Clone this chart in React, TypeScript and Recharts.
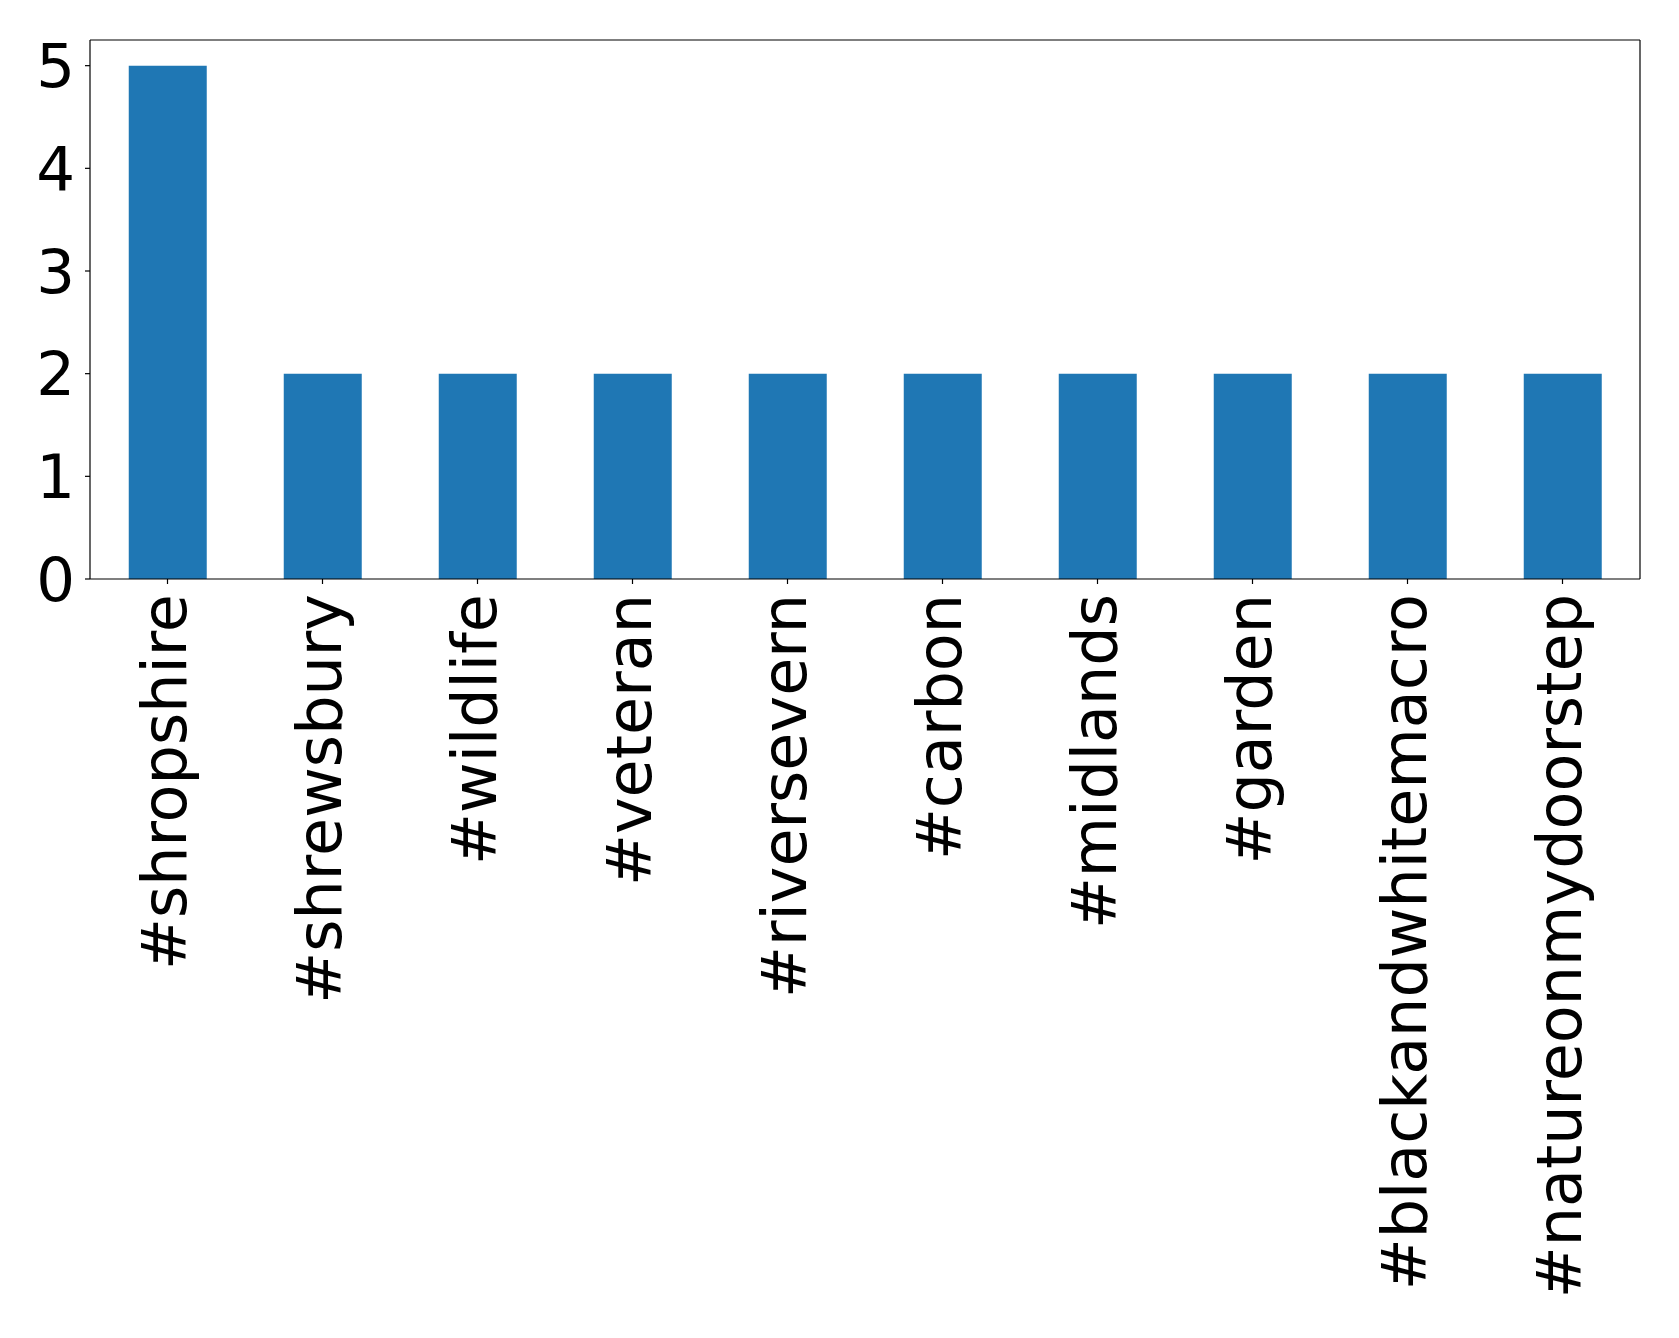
import { BarChart, Bar, XAxis, YAxis } from 'recharts';

const hashtags = [
  '#shropshire',
  '#shrewsbury',
  '#wildlife',
  '#veteran',
  '#riversevern',
  '#carbon',
  '#midlands',
  '#garden',
  '#blackandwhitemacro',
  '#natureonmydoorstep',
];
const counts = [5, 2, 2, 2, 2, 2, 2, 2, 2, 2];
const yTicks = [0, 1, 2, 3, 4, 5];

const data = hashtags.map((tag, i) => ({ tag, count: counts[i] }));

const FONT = '"DejaVu Sans", sans-serif';

// rotated category label, reads bottom-to-top like matplotlib rotation=90
const RotatedTick = (props: any) => {
  const { x, y, payload } = props;
  return (
    <text
      x={x}
      y={y + 8}
      transform={`rotate(-90, ${x}, ${y + 8})`}
      textAnchor="end"
      dy="0.3em"
      fontSize={62}
      fontFamily={FONT}
      fill="#000"
    >
      {payload.value}
    </text>
  );
};

export default function App() {
  return (
    <div style={{ position: 'absolute', left: 0, top: 0, background: '#fff' }}>
      <BarChart
        width={1679}
        height={1338}
        data={data}
        margin={{ top: 39, right: 38, bottom: 0, left: 0 }}
        barCategoryGap="25%"
      >
        <XAxis
          dataKey="tag"
          height={759}
          interval={0}
          tickSize={5}
          stroke="#000"
          axisLine={{ stroke: '#000', strokeWidth: 1.2 }}
          tickLine={{ stroke: '#000', strokeWidth: 1.2 }}
          tick={<RotatedTick />}
        />
        <XAxis
          xAxisId="top"
          orientation="top"
          dataKey="tag"
          height={1}
          tick={false}
          tickLine={false}
          stroke="#000"
          axisLine={{ stroke: '#000', strokeWidth: 1.2 }}
        />
        <YAxis
          width={90}
          domain={[0, 5.25]}
          ticks={yTicks}
          tickSize={5}
          tickMargin={10}
          stroke="#000"
          axisLine={{ stroke: '#000', strokeWidth: 1.2 }}
          tickLine={{ stroke: '#000', strokeWidth: 1.2 }}
          tick={{ fontSize: 61, fontFamily: FONT, fill: '#000' }}
        />
        <YAxis
          yAxisId="right"
          orientation="right"
          width={1}
          domain={[0, 5.25]}
          tick={false}
          tickLine={false}
          stroke="#000"
          axisLine={{ stroke: '#000', strokeWidth: 1.2 }}
        />
        <Bar dataKey="count" fill="#1f77b4" isAnimationActive={false} />
        <Bar dataKey="count" xAxisId="top" yAxisId="right" fill="none" legendType="none" isAnimationActive={false} />
      </BarChart>
    </div>
  );
}
